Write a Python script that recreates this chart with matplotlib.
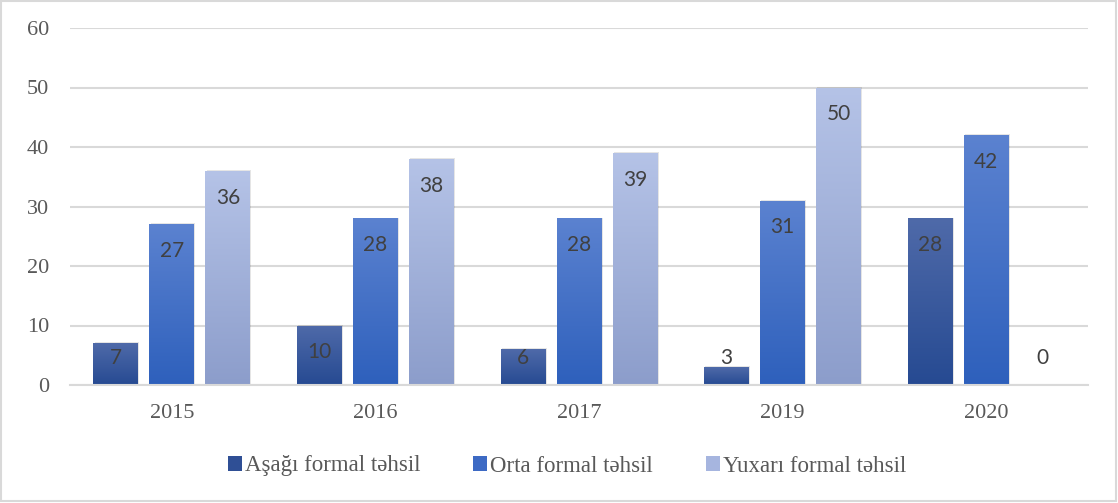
import numpy as np
import matplotlib
matplotlib.use("Agg")
import matplotlib.pyplot as plt
from matplotlib.colors import LinearSegmentedColormap
from matplotlib.patches import Rectangle

categories = ["2015", "2016", "2017", "2019", "2020"]
series_names = ["Aşağı formal təhsil", "Orta formal təhsil", "Yuxarı formal təhsil"]
low_vals = [7, 10, 6, 3, 28]
mid_vals = [27, 28, 28, 31, 42]
high_vals = [36, 38, 39, 50, 0]
series_values = [low_vals, mid_vals, high_vals]

# gradient colours (top, bottom) and legend colours
grad_colors = [("#4f6aa9", "#264a92"), ("#5b82d0", "#2e60bc"), ("#b5c3e7", "#8c9dcb")]
legend_colors = ["#2f4f95", "#3d6ac4", "#a6b5df"]

SERIF = ["Liberation Serif", "DejaVu Serif"]

W, H = 1118, 503
fig = plt.figure(figsize=(W / 100, H / 100), dpi=100)
fig.patch.set_facecolor("white")
fig.add_artist(Rectangle((0.001, 0.004), 0.997, 0.994, transform=fig.transFigure,
                         fill=False, edgecolor="#d9d9d9", linewidth=1.5))

ax = fig.add_axes([70 / W, (H - 385) / H, (1088 - 70) / W, (385 - 28) / H])
x = np.arange(len(categories))
width = 0.22
step = 0.275
offsets = [-step, 0, step]

ax.set_xlim(-0.5, len(categories) - 0.5)
ax.set_ylim(0, 60)

grad = np.linspace(0, 1, 256).reshape(-1, 1)
for i, (vals, (ctop, cbot)) in enumerate(zip(series_values, grad_colors)):
    cmap = LinearSegmentedColormap.from_list(f"g{i}", [cbot, ctop])
    bars = ax.bar(x + offsets[i], vals, width, color=ctop, linewidth=0, zorder=2)
    for b, v in zip(bars, vals):
        if v <= 0:
            continue
        x0, w = b.get_x(), b.get_width()
        # subtle shadow
        ax.add_patch(Rectangle((x0 + 0.006, 0), w, v + 0.15, facecolor="#000000",
                               alpha=0.10, linewidth=0, zorder=1.5))
        im = ax.imshow(grad, cmap=cmap, origin="lower", aspect="auto",
                       extent=(x0, x0 + w, 0, v), zorder=2.5, interpolation="bilinear")
        im.set_clip_path(b)
    for xi, v in zip(x + offsets[i], vals):
        ly = max(v - 4.5, 4.5)
        ax.text(xi, ly, str(v), ha="center", va="center", fontsize=15,
                family="Lato", color="#404040", zorder=4)

ax.set_xlim(-0.5, len(categories) - 0.5)
ax.set_ylim(0, 60)
ax.set_yticks(range(0, 61, 10))
ax.set_xticks(x)
ax.set_xticklabels(categories)
ax.yaxis.grid(True, color="#d9d9d9", linewidth=1.5, zorder=0)
ax.set_axisbelow(True)
for s in ["top", "right", "left"]:
    ax.spines[s].set_visible(False)
ax.spines["bottom"].set_color("#d9d9d9")
ax.spines["bottom"].set_linewidth(1.5)
ax.tick_params(length=0, labelsize=16, labelcolor="#595959")
for lab in ax.get_xticklabels() + ax.get_yticklabels():
    lab.set_family(SERIF)
ax.tick_params(axis="y", pad=15)
ax.tick_params(axis="x", pad=14)

handles = [Rectangle((0, 0), 1, 1, facecolor=c, edgecolor="none") for c in legend_colors]
leg = fig.legend(handles, series_names, loc="center", bbox_to_anchor=(567 / W, 1 - 466 / H),
                 ncol=3, frameon=False, handlelength=0.6, handleheight=0.6,
                 handletextpad=0.15, columnspacing=2.3,
                 prop={"family": SERIF, "size": 16.5})
for t in leg.get_texts():
    t.set_color("#595959")

fig.savefig("out.png", dpi=100, facecolor="white")
